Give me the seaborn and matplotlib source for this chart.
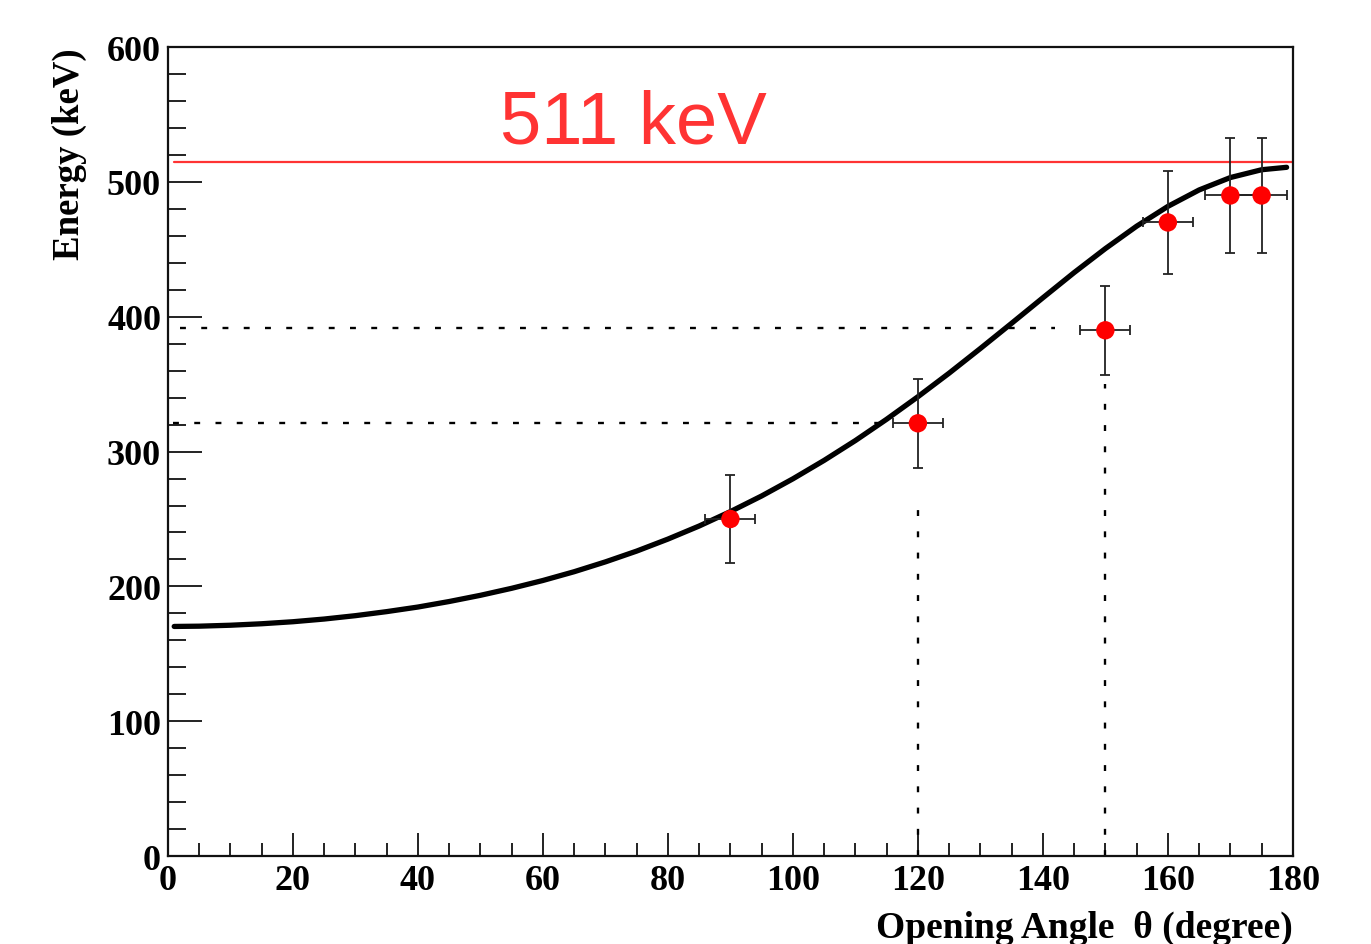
import matplotlib
matplotlib.use('Agg')
import matplotlib.pyplot as plt
import seaborn as sns

# fitted curve
angle_curve = [1, 5, 10, 15, 20, 25, 30, 35, 40, 45, 50, 55, 60, 65, 70, 75, 80, 85, 90,
               95, 100, 105, 110, 115, 120, 125, 130, 135, 140, 145, 150, 155, 160, 165,
               170, 175, 179]
energy_curve = [170.3, 170.5, 171.2, 172.3, 173.8, 175.8, 178.3, 181.3, 184.7, 188.8, 193.4,
                198.6, 204.4, 210.9, 218.2, 226.2, 235.1, 244.8, 255.5, 267.1, 279.8, 293.5,
                308.2, 324.0, 340.7, 358.2, 376.5, 395.2, 414.1, 432.8, 450.6, 467.2, 481.9,
                494.1, 503.3, 509.1, 510.9]

# measured points
angle_pts = [90, 120, 150, 160, 170, 175]
energy_pts = [250, 321, 390, 470, 490, 490]
angle_err = [4, 4, 4, 4, 4, 4]
energy_err = [33, 33, 33, 38, 43, 43]

# reference line and dotted guides
ref_energy = 515
ref_label = '511 keV'
hguide_y = [392, 321]
hguide_xend = [142, 115]
vguide_x = [120, 150]
vguide_yend = [262, 350]

sns.set_style('ticks')
plt.rcParams['font.family'] = ['Liberation Serif', 'DejaVu Serif']
plt.rcParams['text.color'] = 'black'
plt.rcParams['axes.labelcolor'] = 'black'
plt.rcParams['xtick.labelcolor'] = 'black'
plt.rcParams['ytick.labelcolor'] = 'black'

fig, ax = plt.subplots(figsize=(13.71, 9.45), dpi=100)
fig.subplots_adjust(left=0.1225, right=0.943, top=0.949, bottom=0.0931)

ax.axhline(ref_energy, xmin=0.005, xmax=1, color='#ff3333', lw=1.6, zorder=2)
ax.text(53.2, 529, ref_label, color='#ff3333', fontsize=53.5,
        family=['Liberation Sans', 'DejaVu Sans'], ha='left', va='baseline')

dots = (0, (2.5, 6.5))
ax.hlines(hguide_y, [2, 0.8], hguide_xend, colors='black', lw=1.7, linestyles=[dots])
ax.vlines(vguide_x, 0, vguide_yend, colors='black', lw=1.7, linestyles=[dots])

sns.lineplot(x=angle_curve, y=energy_curve, color='black', lw=3.8, ax=ax, zorder=3)

ax.errorbar(angle_pts, energy_pts, xerr=angle_err, yerr=energy_err, fmt='none',
            ecolor='#222222', elinewidth=1.3, capsize=3.5, capthick=1.3, zorder=4)
sns.scatterplot(x=angle_pts, y=energy_pts, color='#ff0000', s=175, edgecolor='none',
                ax=ax, zorder=5)

ax.set_xlim(0, 180)
ax.set_ylim(0, 600)
ax.set_xticks(range(0, 181, 20))
ax.set_xticks(range(0, 181, 5), minor=True)
ax.set_yticks(range(0, 601, 100))
ax.set_yticks(range(0, 601, 20), minor=True)

ax.tick_params(axis='both', which='both', direction='in', width=1.4, color='#222222')
ax.tick_params(axis='x', which='major', length=16.5, pad=6)
ax.tick_params(axis='x', which='minor', length=9.4)
ax.tick_params(axis='y', which='major', length=24.5, pad=5)
ax.tick_params(axis='y', which='minor', length=13)
for lab in ax.get_xticklabels() + ax.get_yticklabels():
    lab.set_fontsize(26)
    lab.set_fontweight('bold')
    lab.set_color('black')

for sp in ax.spines.values():
    sp.set_visible(True)
    sp.set_linewidth(1.6)
    sp.set_color('#111111')

ax.set_xlabel('Opening Angle  \u03b8 (degree)', fontsize=27, fontweight='bold',
              loc='right', labelpad=9, color='black')
ax.set_ylabel('Energy (keV)', fontsize=26.5, fontweight='bold', loc='top', labelpad=14,
              color='black')

fig.savefig('out.png', dpi=100)
